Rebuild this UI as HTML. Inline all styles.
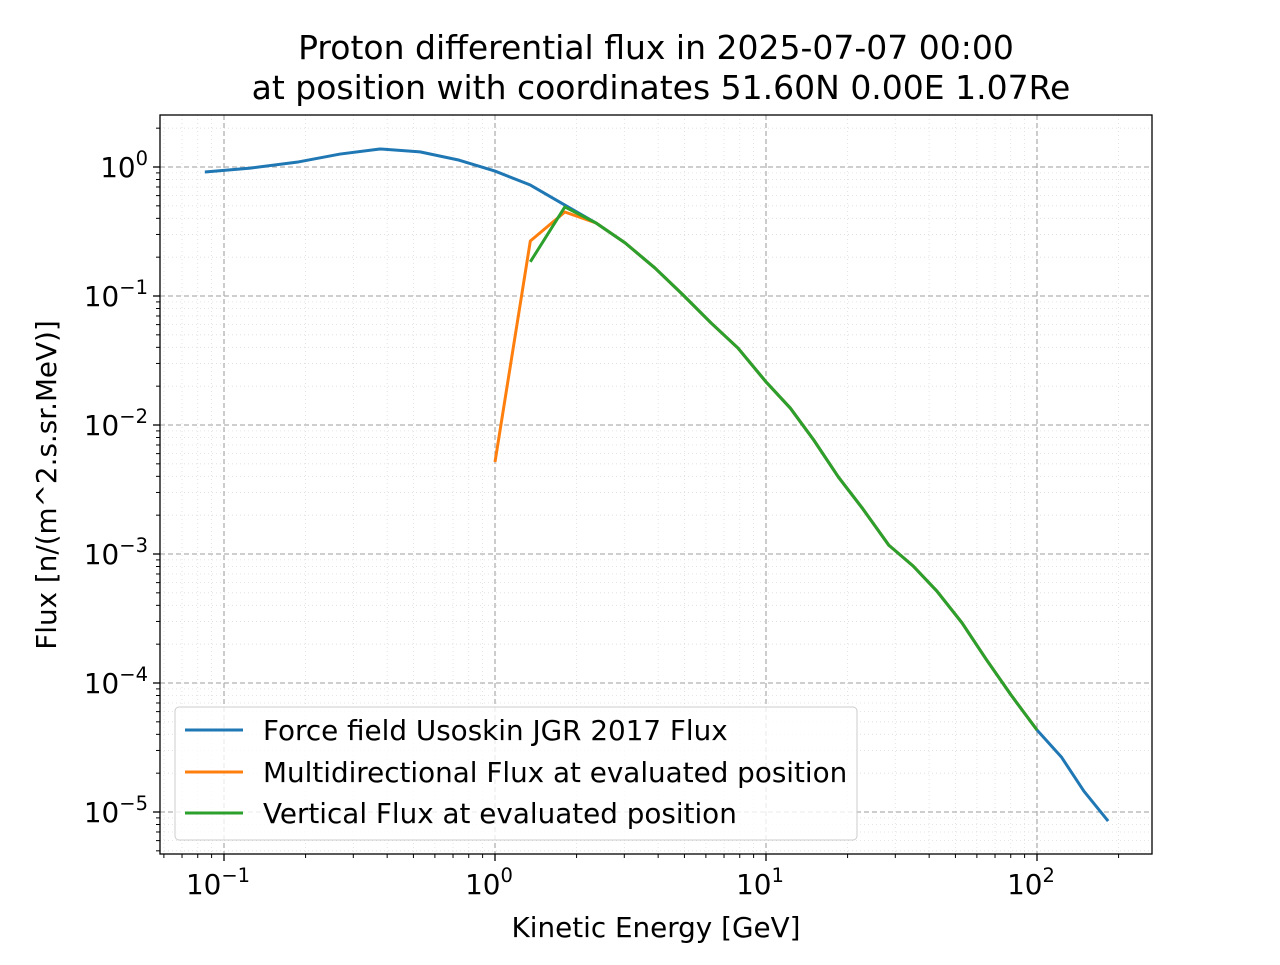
<!DOCTYPE html>
<html><head><meta charset="utf-8"><style>
body{margin:0;background:#fff;}
svg text{font-family:"DejaVu Sans","Liberation Sans",sans-serif;fill:#000;}
.title{font-size:33px;}
.lab{font-size:27.8px;}
.tick{font-size:27.8px;}
.sup{font-size:19.5px;}
</style></head><body>
<svg id="chart" width="1280" height="960" xmlns="http://www.w3.org/2000/svg">
<rect width="1280" height="960" fill="#fff"/>
<text class="title" x="656" y="59" text-anchor="middle">Proton differential flux in 2025-07-07 00:00</text>
<text class="title" x="661" y="99" text-anchor="middle">at position with coordinates 51.60N 0.00E 1.07Re</text>
<g id="grid"></g><g id="series"></g><g id="axes"></g>
<text class="lab" x="656" y="937" text-anchor="middle">Kinetic Energy [GeV]</text>
<text class="lab" transform="translate(56,485) rotate(-90)" text-anchor="middle">Flux [n/(m^2.s.sr.MeV)]</text>
<g>
<rect x="175" y="707" width="682" height="133" rx="4" fill="#fff" fill-opacity="0.8" stroke="#ccc"/>
<line x1="185" y1="730" x2="243" y2="730" stroke="#1f77b4" stroke-width="3"/>
<text class="lab" x="263" y="740">Force field Usoskin JGR 2017 Flux</text>
<line x1="185" y1="772" x2="243" y2="772" stroke="#ff7f0e" stroke-width="3"/>
<text class="lab" x="263" y="782">Multidirectional Flux at evaluated position</text>
<line x1="185" y1="813" x2="243" y2="813" stroke="#2ca02c" stroke-width="3"/>
<text class="lab" x="263" y="823">Vertical Flux at evaluated position</text>
</g>
</svg>
<script>
const energies=[0.085,0.125,0.186,0.268,0.376,0.529,0.737,1.0,1.35,1.81,2.36,3.02,3.89,4.94,6.27,7.88,10,12.3,15.0,18.5,22.8,28.4,34.9,42.7,52.9,64.9,80.2,100,123,149,183];
const forceFlux=[0.915,0.98,1.09,1.26,1.38,1.31,1.13,0.93,0.725,0.507,0.368,0.258,0.165,0.102,0.0618,0.0395,0.0216,0.0135,0.00765,0.00395,0.00223,0.00117,0.000807,0.000516,0.000292,0.000153,8.07e-5,4.32e-5,2.67e-5,1.45e-5,8.5e-6];
const multiEnergies=[1.0,1.35,1.81,2.36,3.02,3.89,4.94,6.27,7.88,10,12.3,15.0,18.5,22.8,28.4,34.9,42.7,52.9,64.9,80.2,100];
const multiFlux=[0.00517,0.267,0.448,0.368,0.258,0.165,0.102,0.0618,0.0395,0.0216,0.0135,0.00765,0.00395,0.00223,0.00117,0.000807,0.000516,0.000292,0.000153,8.07e-5,4.32e-5];
const vertEnergies=[1.35,1.81,2.36,3.02,3.89,4.94,6.27,7.88,10,12.3,15.0,18.5,22.8,28.4,34.9,42.7,52.9,64.9,80.2,100];
const vertFlux=[0.184,0.49,0.368,0.258,0.165,0.102,0.0618,0.0395,0.0216,0.0135,0.00765,0.00395,0.00223,0.00117,0.000807,0.000516,0.000292,0.000153,8.07e-5,4.32e-5];
const xTickExps=[-1,0,1,2];
const yTickExps=[0,-1,-2,-3,-4,-5];
const L=160,R=1152,T=115,B=854;
const X=v=>495+271*Math.log10(v);
const Y=v=>167-129*Math.log10(v);
const NS="http://www.w3.org/2000/svg";
function mk(tag,attrs,parent){const e=document.createElementNS(NS,tag);for(const k in attrs)e.setAttribute(k,attrs[k]);parent.appendChild(e);return e;}
const grid=document.getElementById('grid'),axes=document.getElementById('axes'),series=document.getElementById('series');
for(let d=-2;d<=2;d++)for(let m=2;m<=9;m++){const v=m*Math.pow(10,d),x=X(v);if(x<L||x>R)continue;
 const g=mk('line',{x1:x,x2:x,y1:T,y2:B,stroke:'#ddd','stroke-width':0.8,'stroke-dasharray':'1,3'},grid);
 
 const t=mk('line',{x1:x,x2:x,y1:B,y2:B+4,stroke:'#000','stroke-width':1},axes);
 }
for(let d=-6;d<=0;d++)for(let m=2;m<=9;m++){const v=m*Math.pow(10,d),y=Y(v);if(y<T||y>B)continue;
 const g=mk('line',{x1:L,x2:R,y1:y,y2:y,stroke:'#ddd','stroke-width':0.8,'stroke-dasharray':'1,3'},grid);
 
 const t=mk('line',{x1:L-4,x2:L,y1:y,y2:y,stroke:'#000','stroke-width':1},axes);
 }
xTickExps.forEach(e=>{const x=X(Math.pow(10,e));
 const g=mk('line',{x1:x,x2:x,y1:T,y2:B,stroke:'#b0b0b0','stroke-width':1.3,'stroke-dasharray':'5,3'},grid);
 
 const t=mk('line',{x1:x,x2:x,y1:B,y2:B+7,stroke:'#000','stroke-width':1.3},axes);
 
 const tx=mk('text',{x:x-6,y:B+40,'class':'tick','text-anchor':'middle'},axes);
 
 const b=mk('tspan',{},tx);b.textContent='10';const s=mk('tspan',{dy:-12,'class':'sup'},tx);s.textContent=String(e).replace('-','\u2212');});
yTickExps.forEach(e=>{const y=Y(Math.pow(10,e));
 const g=mk('line',{x1:L,x2:R,y1:y,y2:y,stroke:'#b0b0b0','stroke-width':1.3,'stroke-dasharray':'5,3'},grid);
 
 const t=mk('line',{x1:L-7,x2:L,y1:y,y2:y,stroke:'#000','stroke-width':1.3},axes);
 
 const tx=mk('text',{x:L-12,y:y+10,'class':'tick','text-anchor':'end'},axes);
 
 const b=mk('tspan',{},tx);b.textContent='10';const s=mk('tspan',{dy:-12,'class':'sup'},tx);s.textContent=String(e).replace('-','\u2212');});
const frame=mk('rect',{x:L,y:T,width:R-L,height:B-T,fill:'none',stroke:'#000','stroke-width':1.3},axes);

function line(xs,ys,color,name){const p=mk('polyline',{points:xs.map((v,i)=>X(v)+','+Y(ys[i])).join(' '),fill:'none',stroke:color,'stroke-width':3,'stroke-linejoin':'round'},series);
 }
line(energies,forceFlux,'#1f77b4','force-field-flux-line');
line(multiEnergies,multiFlux,'#ff7f0e','multidirectional-flux-line');
line(vertEnergies,vertFlux,'#2ca02c','vertical-flux-line');
</script>
</body></html>
